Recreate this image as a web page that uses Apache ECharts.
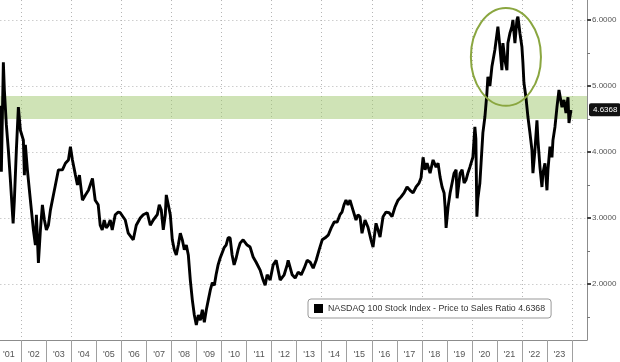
<!DOCTYPE html>
<html>
<head>
<meta charset="utf-8">
<script src="https://cdn.jsdelivr.net/npm/echarts@6/dist/echarts.min.js"></script>
<style>
  html, body { margin: 0; padding: 0; background: #fff; }
  #chart { width: 620px; height: 362px; }
</style>
</head>
<body>
<div id="chart"></div>
<script>
// time in decimal years
var years = [
  2001.16, 2001.20, 2001.28, 2001.32, 2001.40, 2001.48, 2001.56, 2001.67, 2001.72, 2001.80, 2001.88, 2001.96,
  2002.08, 2002.12, 2002.16, 2002.24, 2002.36, 2002.48, 2002.56, 2002.60, 2002.68, 2002.76, 2002.84, 2002.92,
  2003.00, 2003.08, 2003.16, 2003.28, 2003.36, 2003.48, 2003.64, 2003.76, 2003.88, 2003.96,
  2004.04, 2004.16, 2004.24, 2004.32, 2004.44, 2004.56, 2004.68, 2004.84, 2004.95,
  2005.07, 2005.15, 2005.23, 2005.31, 2005.39, 2005.47, 2005.55, 2005.63, 2005.75, 2005.87, 2005.95,
  2006.15, 2006.27, 2006.47, 2006.59, 2006.75, 2006.87,
  2007.03, 2007.15, 2007.27, 2007.43, 2007.51, 2007.59, 2007.67, 2007.75, 2007.79, 2007.87, 2007.95,
  2008.03, 2008.11, 2008.19, 2008.27, 2008.35, 2008.43, 2008.51, 2008.59, 2008.67, 2008.75, 2008.83, 2008.91, 2008.99,
  2009.07, 2009.15, 2009.23, 2009.31, 2009.39, 2009.47, 2009.55, 2009.63, 2009.71, 2009.78, 2009.86, 2009.94,
  2010.02, 2010.10, 2010.18, 2010.26, 2010.34, 2010.42, 2010.50, 2010.58, 2010.66, 2010.74, 2010.86,
  2011.02, 2011.14, 2011.26, 2011.38, 2011.54, 2011.66, 2011.74, 2011.82, 2011.94,
  2012.06, 2012.18, 2012.26, 2012.34, 2012.50, 2012.62, 2012.66, 2012.82, 2012.94,
  2013.06, 2013.18, 2013.30, 2013.42, 2013.54, 2013.66, 2013.78, 2013.90,
  2014.02, 2014.14, 2014.26, 2014.38, 2014.50, 2014.62, 2014.73, 2014.81, 2014.89, 2014.97,
  2015.05, 2015.13, 2015.25, 2015.37, 2015.45, 2015.53, 2015.61, 2015.73, 2015.85, 2015.97,
  2016.05, 2016.17, 2016.25, 2016.33, 2016.45, 2016.57, 2016.69, 2016.81, 2016.93,
  2017.05, 2017.17, 2017.29, 2017.41, 2017.53, 2017.65, 2017.77, 2017.89, 2017.97,
  2018.05, 2018.13, 2018.21, 2018.33, 2018.45, 2018.57, 2018.65, 2018.73, 2018.81, 2018.89, 2018.93, 2018.97,
  2019.05, 2019.13, 2019.21, 2019.29, 2019.37, 2019.41, 2019.53, 2019.61, 2019.69, 2019.77, 2019.84, 2019.92,
  2020.04, 2020.12, 2020.16, 2020.20, 2020.24, 2020.32, 2020.44, 2020.52, 2020.60, 2020.64, 2020.72, 2020.80, 2020.92,
  2021.04, 2021.12, 2021.20, 2021.24, 2021.32, 2021.40, 2021.44, 2021.52, 2021.60, 2021.64, 2021.72, 2021.80, 2021.84, 2021.92,
  2022.00, 2022.04, 2022.08, 2022.16, 2022.24, 2022.32, 2022.40, 2022.44, 2022.52, 2022.60, 2022.64, 2022.72, 2022.80, 2022.84, 2022.92,
  2023.00, 2023.04, 2023.12, 2023.20, 2023.24, 2023.32, 2023.40, 2023.48, 2023.60, 2023.68, 2023.76, 2023.84, 2023.88, 2023.96
];
var ratio = [
  4.70, 3.70, 5.36, 4.94, 4.41, 4.03, 3.58, 2.92, 3.27, 4.03, 4.68, 4.33,
  4.18, 3.65, 4.11, 3.73, 3.27, 2.82, 2.59, 3.05, 2.32, 2.82, 3.20, 2.97,
  2.82, 2.89, 3.12, 3.35, 3.50, 3.73, 3.73, 3.83, 3.88, 4.08,
  3.88, 3.65, 3.50, 3.65, 3.27, 3.35, 3.42, 3.60, 3.27,
  3.20, 2.89, 2.82, 2.97, 2.85, 2.89, 2.97, 2.82, 3.05, 3.09, 3.08,
  2.97, 2.77, 2.67, 2.89, 3.00, 3.05,
  3.08, 2.89, 2.97, 3.05, 3.20, 3.12, 2.82, 3.05, 3.35, 3.20, 3.05,
  2.67, 2.52, 2.44, 2.59, 2.77, 2.67, 2.52, 2.59, 2.44, 2.06, 1.76, 1.53, 1.38,
  1.53, 1.45, 1.61, 1.42, 1.61, 1.76, 1.91, 2.02, 1.98, 2.14, 2.29, 2.39,
  2.47, 2.55, 2.59, 2.70, 2.70, 2.44, 2.29, 2.39, 2.52, 2.62, 2.67,
  2.59, 2.56, 2.41, 2.33, 2.21, 2.06, 1.98, 2.14, 2.06,
  2.29, 2.36, 2.21, 2.06, 2.14, 2.29, 2.36, 2.14, 2.09,
  2.18, 2.14, 2.24, 2.36, 2.33, 2.24, 2.36, 2.52,
  2.67, 2.70, 2.74, 2.85, 2.94, 2.94, 3.05, 3.09, 3.20, 3.27,
  3.20, 3.27, 3.12, 2.97, 3.05, 3.02, 2.77, 2.97, 2.86, 2.67,
  2.56, 2.92, 2.82, 2.71, 3.02, 3.09, 3.08, 3.02, 3.17,
  3.27, 3.32, 3.38, 3.47, 3.42, 3.38, 3.47, 3.53, 3.61,
  3.92, 3.73, 3.83, 3.68, 3.88, 3.77, 3.83, 3.62, 3.47, 3.38, 3.17, 2.85,
  3.17, 3.38, 3.53, 3.68, 3.73, 3.30, 3.68, 3.73, 3.53, 3.58, 3.68, 3.77,
  3.92, 4.38, 4.20, 3.02, 3.30, 3.53, 4.29, 4.53, 4.89, 5.14, 5.00, 5.29, 5.55,
  5.90, 5.59, 5.24, 5.65, 5.39, 5.24, 5.65, 5.80, 5.90, 6.00, 5.65, 6.00, 6.05, 5.80,
  5.59, 5.35, 5.05, 4.83, 4.53, 4.29, 4.03, 3.68, 4.03, 4.48, 4.18, 3.77, 3.47, 3.68, 3.83,
  3.42, 3.73, 4.08, 3.92, 4.18, 4.38, 4.68, 4.94, 4.68, 4.79, 4.59, 4.83, 4.44, 4.6368
];
var seriesName = 'NASDAQ 100 Stock Index - Price to Sales Ratio';
var lastValue = 4.6368;
var yearBounds = [2002, 2003, 2004, 2005, 2006, 2007, 2008, 2009, 2010, 2011, 2012, 2013,
  2014, 2015, 2016, 2017, 2018, 2019, 2020, 2021, 2022, 2023, 2024];
var yearLabels = [2001, 2002, 2003, 2004, 2005, 2006, 2007, 2008, 2009, 2010, 2011, 2012,
  2013, 2014, 2015, 2016, 2017, 2018, 2019, 2020, 2021, 2022, 2023];
var gridYears = [2002, 2004, 2006, 2008, 2010, 2012, 2014, 2016, 2018, 2020, 2022, 2024];
var yTicks = [2, 3, 4, 5, 6];
var yHalfTicks = [1.5, 2.5, 3.5, 4.5, 5.5];
var band = [4.5, 4.85];
// highlighted peak: centre and half-size in data units
var peakCentre = [2021.36, 5.44];
var peakHalf = [1.4, 0.74];

var chart = echarts.init(document.getElementById('chart'));

var xMin = 2001.16, xMax = 2024.6;
var yMin = 1.152, yMax = 6.303;
var gridStyle = { type: [1, 3], color: '#b5b5b5', width: 1 };

var data = [];
for (var i = 0; i < years.length; i++) {
  data.push([years[i], ratio[i]]);
}

var option = {
  animation: false,
  backgroundColor: '#fff',
  grid: { left: 0, right: 33, top: 0, bottom: 22 },
  legend: {
    left: 308, top: 299,
    padding: [5, 6, 5, 6],
    backgroundColor: '#fff',
    borderColor: '#999', borderWidth: 1, borderRadius: 3,
    icon: 'rect', itemWidth: 9, itemHeight: 9, itemGap: 4,
    textStyle: { fontFamily: 'Liberation Sans', fontSize: 8.8, color: '#333' },
    formatter: function (name) { return name + ' ' + lastValue.toFixed(4); },
    data: [seriesName]
  },
  xAxis: [{
    type: 'value', min: xMin, max: xMax,
    axisLine: { show: true, lineStyle: { color: '#8c8c8c' } },
    axisTick: { show: true, customValues: yearBounds, length: 22, lineStyle: { color: '#a0a0a0' } },
    axisLabel: {
      customValues: yearLabels.map(function (y) { return y + 0.5; }),
      margin: 10, fontSize: 9, color: '#555', fontFamily: 'Liberation Sans',
      formatter: function (v) { return "'" + String(Math.floor(v)).slice(2); }
    },
    splitLine: { show: false }
  }, {
    type: 'value', min: xMin, max: xMax, position: 'bottom',
    axisLine: { show: false },
    axisTick: { show: false, customValues: gridYears },
    axisLabel: { show: false, customValues: gridYears },
    splitLine: { show: true, lineStyle: gridStyle }
  }],
  yAxis: [{
    type: 'value', position: 'right', min: yMin, max: yMax,
    axisLine: { show: true, lineStyle: { color: '#8c8c8c' } },
    axisTick: { show: true, customValues: yTicks, length: 4, lineStyle: { color: '#444', width: 2 } },
    axisLabel: {
      customValues: yTicks, margin: 5, fontSize: 8, color: '#555', fontFamily: 'Liberation Sans',
      formatter: function (v) { return v.toFixed(4); }
    },
    splitLine: { show: true, lineStyle: gridStyle }
  }, {
    type: 'value', position: 'right', min: yMin, max: yMax,
    axisLine: { show: false },
    axisTick: { show: true, customValues: yHalfTicks, length: 3, lineStyle: { color: '#777' } },
    axisLabel: { show: false, customValues: yHalfTicks },
    splitLine: { show: false }
  }],
  series: [{
    name: seriesName,
    type: 'line',
    xAxisIndex: 0, yAxisIndex: 0,
    data: data,
    showSymbol: false,
    lineStyle: { color: '#000', width: 2.9 },
    itemStyle: { color: '#000' },
    z: 5,
    markArea: {
      silent: true,
      itemStyle: { color: 'rgba(160, 200, 110, 0.5)' },
      data: [[{ yAxis: band[0] }, { yAxis: band[1] }]]
    },
    markLine: {
      silent: true, symbol: 'none',
      lineStyle: { color: 'transparent', width: 0 },
      label: {
        show: true, position: 'end', distance: 2,
        formatter: function () { return lastValue.toFixed(4); },
        backgroundColor: '#111', color: '#fff', fontSize: 8,
        fontFamily: 'Liberation Sans', padding: [3, 3, 2, 4], borderRadius: 2
      },
      data: [{ yAxis: lastValue }]
    }
  }]
};
chart.setOption(option);

// green ellipse around the 2021 peak, placed through the axes
var c = chart.convertToPixel({ xAxisIndex: 0, yAxisIndex: 0 }, peakCentre);
var e = chart.convertToPixel({ xAxisIndex: 0, yAxisIndex: 0 },
  [peakCentre[0] - peakHalf[0], peakCentre[1] - peakHalf[1]]);
chart.setOption({
  graphic: [{
    type: 'ellipse', z: 20, silent: true,
    shape: { cx: c[0], cy: c[1], rx: c[0] - e[0], ry: e[1] - c[1] },
    style: { fill: 'none', stroke: '#8aa640', lineWidth: 2 }
  }]
});
</script>
</body>
</html>
